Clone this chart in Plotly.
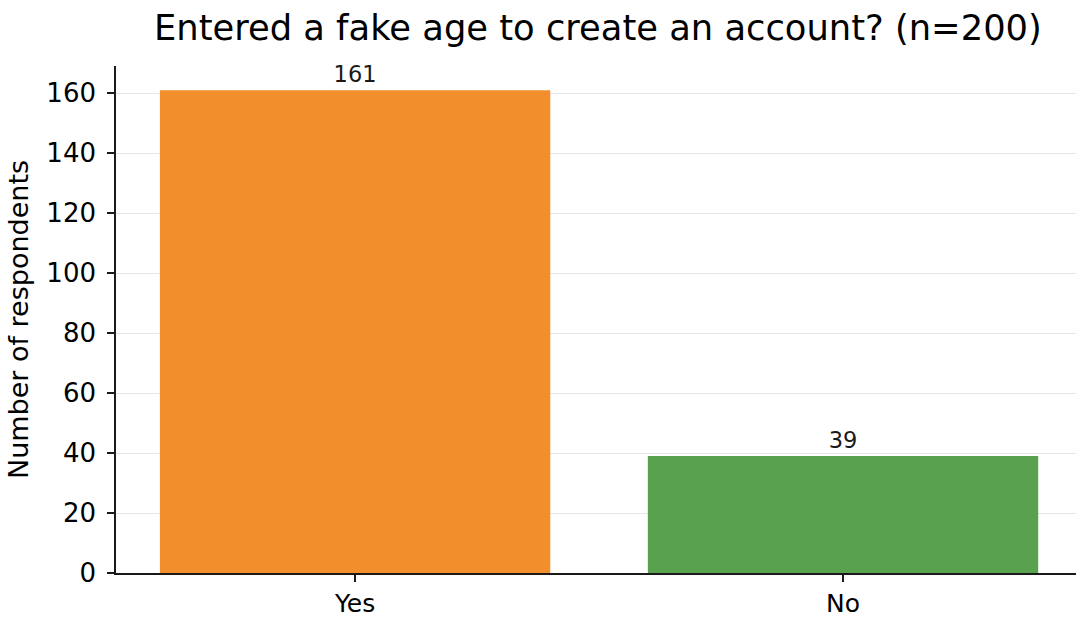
import plotly.graph_objects as go

# Survey answers
categories = ["Yes", "No"]
counts = [161, 39]
bar_colors = ["#F28E2B", "#59A14F"]
y_ticks = [0, 20, 40, 60, 80, 100, 120, 140, 160]

FONT = "DejaVu Sans"

fig = go.Figure(
    go.Bar(
        x=categories,
        y=counts,
        width=0.8,
        marker=dict(color=bar_colors, line=dict(width=0)),
        text=[str(v) for v in counts],
        textposition="outside",
        textfont=dict(family=FONT, size=22.5, color="#1a1a1a"),
        constraintext="none",
        cliponaxis=False,
    )
)

fig.update_layout(
    width=1076,
    height=618,
    margin=dict(l=116, r=0, t=66, b=45),
    paper_bgcolor="white",
    plot_bgcolor="white",
    showlegend=False,
    title=dict(
        text="Entered a fake age to create an account? (n=200)",
        font=dict(family=FONT, size=35.3, color="black"),
        xref="paper",
        x=0.502,
        xanchor="center",
        y=0.955,
        yanchor="middle",
    ),
    font=dict(family=FONT, color="black"),
)

fig.update_xaxes(
    range=[-0.49, 1.4775],
    automargin=False,
    showline=True,
    linecolor="#1a1a1a",
    linewidth=1.6,
    ticks="outside",
    ticklen=7,
    tickwidth=1.6,
    tickcolor="#1a1a1a",
    tickfont=dict(family=FONT, size=25, color="black"),
    ticklabelstandoff=0,
    showgrid=False,
    zeroline=False,
)

fig.update_yaxes(
    range=[0, 169.05],
    automargin=False,
    tickvals=y_ticks,
    showline=True,
    linecolor="#1a1a1a",
    linewidth=1.6,
    ticks="outside",
    ticklen=7,
    tickwidth=1.6,
    tickcolor="#1a1a1a",
    tickfont=dict(family=FONT, size=26, color="black"),
    ticklabelstandoff=6,
    showgrid=True,
    gridcolor="rgba(200,200,200,0.45)",
    gridwidth=1,
    zeroline=False,
    layer="above traces",
    title=dict(text="Number of respondents", font=dict(family=FONT, size=27, color="black"), standoff=10),
)

fig.write_html("out.html")
